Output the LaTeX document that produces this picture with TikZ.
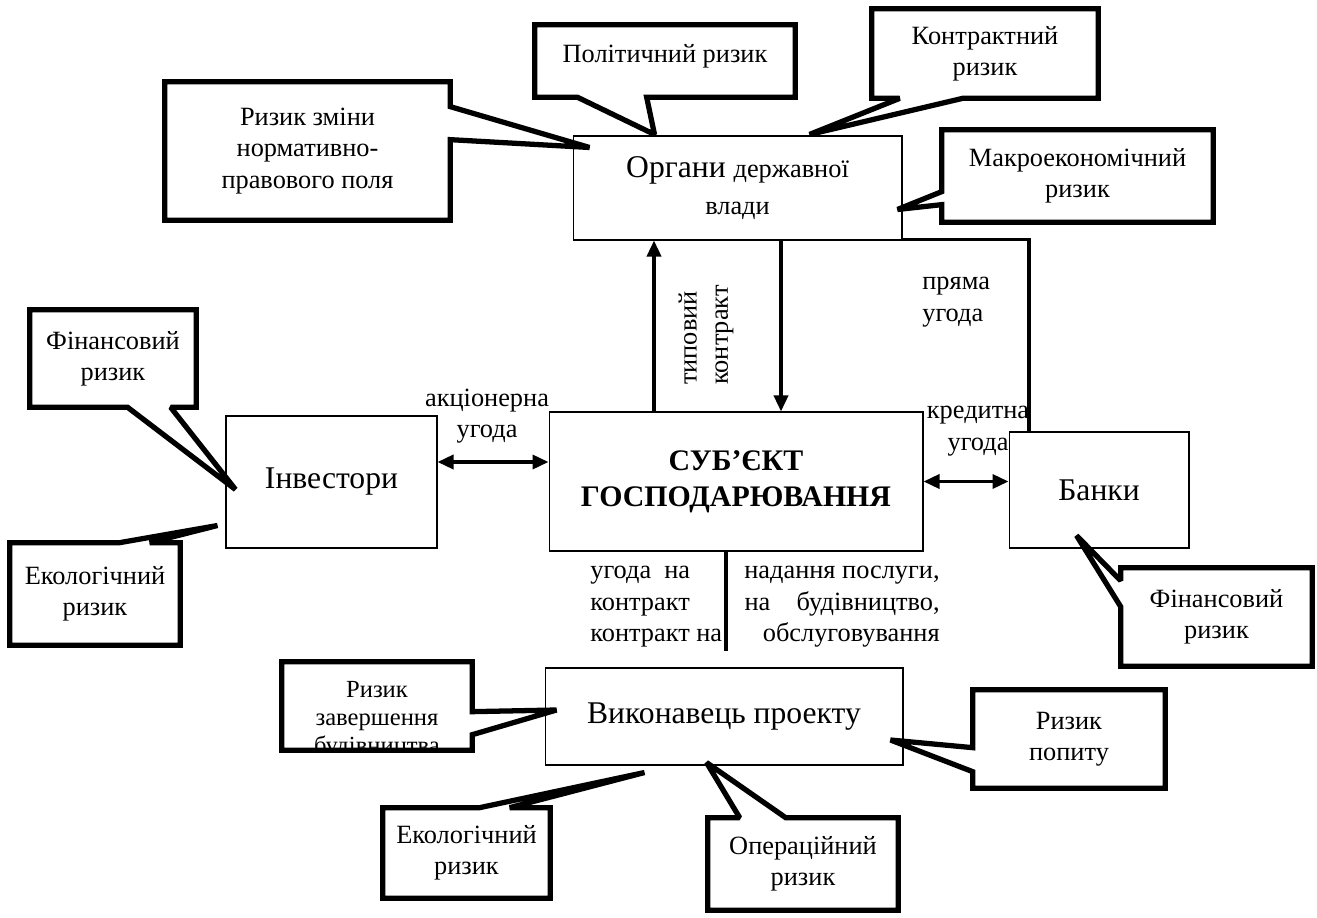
\documentclass[tikz,border=0pt]{standalone}
\usepackage{fontspec}
\setmainfont{Liberation Serif}
\usetikzlibrary{arrows.meta,calc}
\newcommand{\bigfont}{\fontsize{18}{21}\selectfont}
\newcommand{\smallfont}{\fontsize{15}{17.8}\selectfont}
\begin{document}
\begin{tikzpicture}[
			x=0.02cm, y=-0.02cm,
			box/.style={draw, line width=0.6pt, align=center, inner sep=0pt, font=\bigfont},
			risk/.style={align=center, inner sep=0pt, font=\smallfont},
			riskline/.style={line width=3pt, miter limit=2},
			note/.style={inner sep=0pt, font=\smallfont},
			link/.style={line width=2pt},
			flow/.style={link, -{Triangle[length=0.32cm,width=0.28cm]}},
			both/.style={link, {Triangle[length=0.32cm,width=0.28cm]}-{Triangle[length=0.32cm,width=0.28cm]}}
		]
		\useasboundingbox (0,0) rectangle (1317,918);

		\node[box, minimum width=6.58cm, minimum height=2.08cm] (organy) at (737.5,188)
		{Органи {\smallfont державної}\\{\smallfont влади}};
		\node[box, minimum width=7.48cm, minimum height=2.78cm,
			font=\fontsize{17}{20.5}\selectfont\bfseries] (subject) at (736,481.5)
		{СУБ’ЄКТ\\ГОСПОДАРЮВАННЯ};
		\node[box, minimum width=4.22cm, minimum height=2.64cm] (invest) at (331.5,482) {Інвестори};
		\node[box, minimum width=3.6cm, minimum height=2.32cm] (banky) at (1099,490) {Банки};
		\node[box, minimum width=7.16cm, minimum height=1.94cm] (vykon) at (724,716.5) {Виконавець проекту};

		\node[risk, minimum width=5.7cm, minimum height=2.76cm] (rzmin) at (307.5,151)
		{Ризик зміни\\нормативно-\\правового поля};
		\draw[riskline] (rzmin.north west) -- (rzmin.north east) -- ($(rzmin.north east)+(0,25)$)
		-- ($(organy.north west)+(17,12)$) -- ($(rzmin.north east)+(0,58)$)
		-- (rzmin.south east) -- (rzmin.south west) -- cycle;

		\node[risk, minimum width=5.2cm, minimum height=1.44cm] (polit) at (665,61)
		{\raisebox{0.32cm}{Політичний ризик}};
		\draw[riskline] (polit.north west) -- (polit.north east) -- (polit.south east)
		-- ($(polit.south west)+(112,0)$) -- ($(organy.north west)+(82,-1)$)
		-- ($(polit.south west)+(43,0)$) -- (polit.south west) -- cycle;

		\node[risk, minimum width=4.52cm, minimum height=1.78cm] (kontr) at (985,53.5)
		{Контрактний\\ризик};
		\draw[riskline] (kontr.north west) -- (kontr.north east) -- (kontr.south east)
		-- ($(kontr.south west)+(91,0)$) -- ($(organy.north west)+(237,-1)$)
		-- ($(kontr.south west)+(28,0)$) -- (kontr.south west) -- cycle;

		\node[risk, minimum width=5.42cm, minimum height=1.84cm] (makro) at (1077.5,176)
		{Макроекономічний\\ризик};
		\draw[riskline] (makro.north west) -- (makro.north east) -- (makro.south east)
		-- (makro.south west) -- ($(makro.north west)+(0,75)$)
		-- ($(organy.north east)+(-5,74)$) -- ($(makro.north west)+(0,62)$) -- cycle;

		\node[risk, minimum width=3.32cm, minimum height=1.94cm] (fin1) at (113,358.5)
		{Фінансовий\\ризик};
		\draw[riskline] (fin1.north west) -- (fin1.north east) -- (fin1.south east)
		-- ($(fin1.south west)+(141,0)$) -- ($(invest.north west)+(10,74)$)
		-- ($(fin1.south west)+(98,0)$) -- (fin1.south west) -- cycle;

		\node[risk, minimum width=3.4cm, minimum height=2.04cm] (eko1) at (95,594)
		{Екологічний\\ризик};
		\draw[riskline] (eko1.north west) -- ($(eko1.north west)+(110,0)$)
		-- ($(invest.south west)+(-8,-23)$) -- ($(eko1.north west)+(140,0)$)
		-- (eko1.north east) -- (eko1.south east) -- (eko1.south west) -- cycle;

		\node[risk, minimum width=3.82cm, minimum height=1.96cm] (fin2) at (1216.5,617)
		{Фінансовий\\ризик};
		\draw[riskline] (fin2.north west) -- (fin2.north east) -- (fin2.south east)
		-- (fin2.south west) -- ($(fin2.north west)+(0,39)$)
		-- ($(banky.south west)+(68,-13)$) -- ($(fin2.north west)+(0,13)$) -- cycle;

		\node[risk, minimum width=3.8cm, minimum height=1.76cm] (rzav) at (377,706) {};
		\begin{scope}
			\clip ($(rzav.north west)+(3,3)$) rectangle ($(rzav.south east)+(-3,-3)$);
			\node[note, align=center, font=\fontsize{14}{16}\selectfont] (rzavtext) at (377,720)
			{Ризик\\завершення\\будівництва};
		\end{scope}
		\draw[riskline] (rzav.north west) -- (rzav.north east) -- ($(rzav.north east)+(0,50)$)
		-- ($(vykon.west)+(12,-6.5)$) -- ($(rzav.north east)+(0,73)$)
		-- (rzav.south east) -- (rzav.south west) -- cycle;

		\node[risk, minimum width=3.84cm, minimum height=1.96cm] (popyt) at (1069,739)
		{Ризик\\попиту};
		\draw[riskline] (popyt.north west) -- (popyt.north east) -- (popyt.south east)
		-- (popyt.south west) -- ($(popyt.north west)+(0,82)$)
		-- ($(vykon.east)+(-13,23.5)$) -- ($(popyt.north west)+(0,58)$) -- cycle;

		\node[risk, minimum width=3.34cm, minimum height=1.8cm] (eko2) at (466.5,853)
		{Екологічний\\ризик};
		\draw[riskline] (eko2.north west) -- ($(eko2.north west)+(97,0)$)
		-- ($(vykon.south west)+(100,7)$) -- ($(eko2.north west)+(127,0)$)
		-- (eko2.north east) -- (eko2.south east) -- (eko2.south west) -- cycle;

		\node[risk, minimum width=3.8cm, minimum height=1.84cm] (oper) at (803,864)
		{Операційний\\ризик};
		\draw[riskline] (oper.north west) -- ($(oper.north west)+(32,0)$)
		-- ($(vykon.south west)+(162,-3)$) -- ($(oper.north west)+(78,0)$)
		-- (oper.north east) -- (oper.south east) -- (oper.south west) -- cycle;

		\coordinate (upfoot) at ($(subject.north)+(-82,0)$);
		\coordinate (downtop) at ($(organy.south)+(43.5,0)$);
		\coordinate (actfoot) at ($(invest.east)+(0,-20)$);
		\coordinate (bankcorner) at ($(banky.north)+(-70,0)$);
		\coordinate (contrtop) at ($(subject.south)+(-10,0)$);
		\coordinate (contrend) at ($(vykon.north)+(2,-16)$);

		\draw[flow] (upfoot) -- (upfoot |- organy.south);
		\draw[flow] (downtop) -- (downtop |- subject.north);
		\draw[both] (actfoot) -- (actfoot -| subject.west);
		\draw[both] (subject.east) -- (subject.east -| banky.west);
		\draw[link] ($(organy.south east)+(0,-1)$) -| (bankcorner);
		\draw[link] (contrtop) -- (contrtop |- contrend);

		\node[note, rotate=90, align=left] (typ) at (706,335) {типовий\\контракт};
		\node[note, align=left, anchor=west] (pryama) at (922,302) {пряма\\угода};
		\node[note, align=center] (aktsion) at (487,416) {акціонерна\\угода};
		\node[note, align=center] (kredyt) at (978,431) {кредитна\\угода};
		\node[note, align=left, anchor=north west] (ugodaL) at (590,566)
		{угода\enspace на\\контракт\\контракт на};
		\node[note, align=right, anchor=north east] (ugodaR) at (940,566)
		{надання послуги,\\на\quad будівництво,\\обслуговування};
	\end{tikzpicture}
\end{document}
